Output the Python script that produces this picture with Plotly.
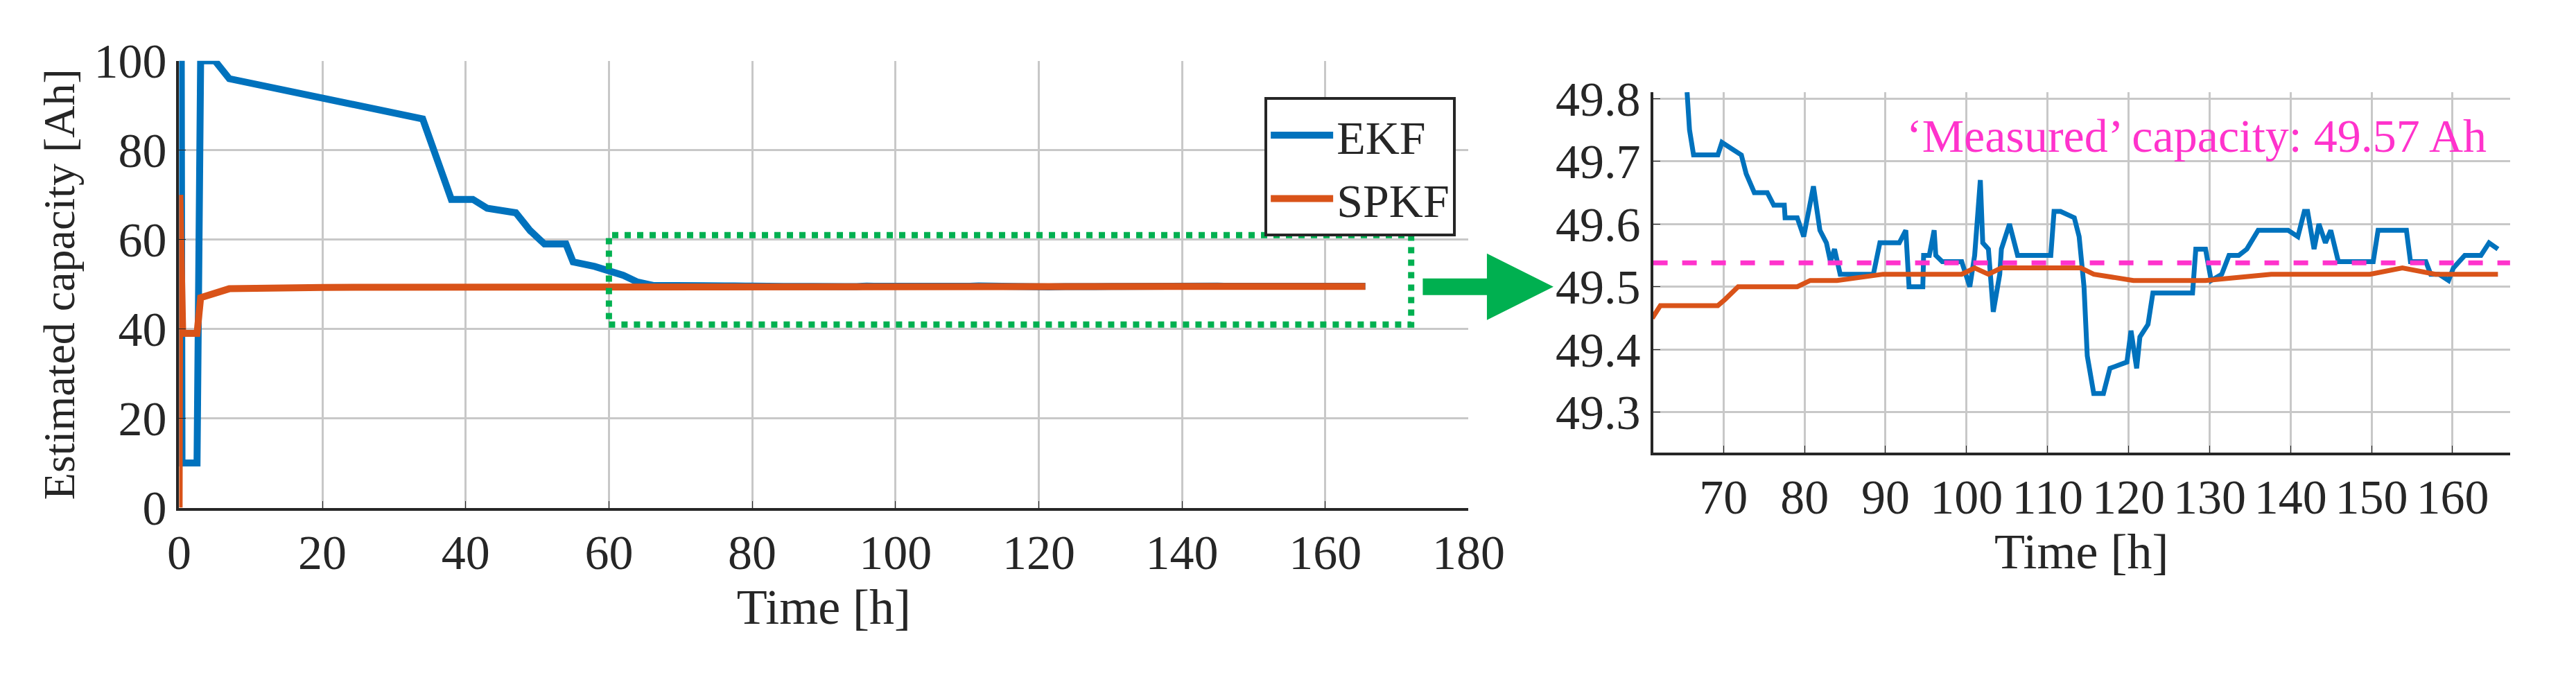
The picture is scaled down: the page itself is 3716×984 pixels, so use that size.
import plotly.graph_objects as go

# EKF early transient (left plot only) then detailed
ekf_t_early = [0, 0.3, 0.4, 2.5, 3.0, 5.0, 7.0, 34, 38, 41, 43, 47, 49, 51, 54, 55, 58, 60, 62, 64]
ekf_v_early = [100, 100, 10, 10, 100, 100, 96, 87, 69, 69, 67, 66, 62, 59, 59, 55, 54, 53, 52, 50.5]
ekf_t = [65.5, 65.8, 66.3, 69.3, 69.8, 71, 72.2, 72.8, 73.8, 75.4, 76.2, 77.5, 77.6, 79.1, 79.9, 81.1, 81.9, 82.7,
         83.2, 83.7, 84.4, 88.5, 89.3, 90.1, 91.7, 92.5, 92.9, 94.6, 94.7, 95.4, 96, 96.2, 97, 99.4, 100.4, 101, 101.7,
         102, 102.7, 103.3, 104.1, 104.3, 105.3, 106.3, 110.4, 110.8, 111.6, 113.3, 113.9, 114.5, 114.9, 115.7, 116.9,
         117.7, 119.8, 120.3, 121, 121.4, 122.4, 123, 123.7, 127.9, 128.3, 129.5, 130.2, 131.5, 132.4, 133.6, 134.6,
         136, 137.6, 139.7, 140.9, 141.7, 142.1, 142.9, 143.5, 144.3, 144.96, 145.9, 150.2, 150.8, 151.8, 154.3, 154.8,
         156.7, 157.3, 158.3, 159.5, 160.1, 161.5, 163.5, 164.5, 165.6]
ekf_v = [49.81, 49.75, 49.71, 49.71, 49.73, 49.72, 49.71, 49.68, 49.65, 49.65, 49.63, 49.63, 49.61, 49.61, 49.58, 49.66,
         49.59, 49.57, 49.54, 49.56, 49.52, 49.52, 49.57, 49.57, 49.57, 49.59, 49.50, 49.50, 49.55, 49.55, 49.59, 49.55,
         49.54, 49.54, 49.50, 49.55, 49.67, 49.57, 49.56, 49.46, 49.52, 49.56, 49.60, 49.55, 49.55, 49.62, 49.62, 49.61,
         49.58, 49.50, 49.39, 49.33, 49.33, 49.37, 49.38, 49.43, 49.37, 49.42, 49.44, 49.49, 49.49, 49.49, 49.56, 49.56,
         49.51, 49.52, 49.55, 49.55, 49.56, 49.59, 49.59, 49.59, 49.58, 49.62, 49.62, 49.56, 49.60, 49.57, 49.59, 49.54,
         49.54, 49.59, 49.59, 49.59, 49.54, 49.54, 49.52, 49.52, 49.51, 49.53, 49.55, 49.55, 49.57, 49.56]

spkf_t_early = [0, 0.1, 0.5, 2.5, 3.0, 5.0, 7.0, 20, 40]
spkf_v_early = [0, 70, 39, 39, 47, 48, 49, 49.3, 49.4]
spkf_t = [61.2, 62.2, 64.1, 65.7, 69.3, 70.2, 71.8, 73.4, 79.1, 80.7, 84, 89.7, 92.9, 99.4, 101, 102.7, 104.3, 112.4,
          114.1, 115.7, 120.6, 122.2, 129.5, 137.6, 145.7, 149.8, 153.8, 157.9, 165.6]
spkf_v = [49.45, 49.47, 49.47, 49.47, 49.47, 49.48, 49.50, 49.50, 49.50, 49.51, 49.51, 49.52, 49.52, 49.52, 49.53,
          49.52, 49.53, 49.53, 49.53, 49.52, 49.51, 49.51, 49.51, 49.52, 49.52, 49.52, 49.53, 49.52, 49.52]

measured = 49.538
measured_label = "‘Measured’ capacity: 49.57 Ah"
left_xticks = list(range(0, 181, 20))
left_yticks = list(range(0, 101, 20))
right_xticks = list(range(70, 161, 10))
right_yticks = [49.3, 49.4, 49.5, 49.6, 49.7, 49.8]

BLUE = "#0072BD"
ORANGE = "#D95319"
GREEN = "#00B050"
PINK = "#FF33CC"
FONT = "Liberation Serif"

fig = go.Figure()
fig.add_trace(go.Scatter(x=ekf_t_early + ekf_t, y=ekf_v_early + ekf_v, mode="lines", name="EKF",
                         line=dict(color=BLUE, width=10), xaxis="x", yaxis="y"))
fig.add_trace(go.Scatter(x=spkf_t_early + spkf_t, y=spkf_v_early + spkf_v, mode="lines", name="SPKF",
                         line=dict(color=ORANGE, width=10), xaxis="x", yaxis="y"))
fig.add_trace(go.Scatter(x=ekf_t, y=ekf_v, mode="lines", showlegend=False,
                         line=dict(color=BLUE, width=7), xaxis="x2", yaxis="y2"))
fig.add_trace(go.Scatter(x=spkf_t, y=spkf_v, mode="lines", showlegend=False,
                         line=dict(color=ORANGE, width=7), xaxis="x2", yaxis="y2"))
fig.add_trace(go.Scatter(x=[61.3, 167.1], y=[measured, measured], mode="lines", showlegend=False,
                         line=dict(color=PINK, width=7, dash="dash"), xaxis="x2", yaxis="y2"))

ax_common = dict(showgrid=True, gridcolor="#C8C8C8", gridwidth=3, showline=True, linecolor="#262626",
                 linewidth=4, zeroline=False, ticks="inside", ticklen=10, tickcolor="#262626",
                 tickfont=dict(family=FONT, size=70, color="#262626"))

fig.update_layout(
    width=3716, height=984, margin=dict(l=0, r=0, t=0, b=0),
    paper_bgcolor="white", plot_bgcolor="white",
    font=dict(family=FONT, color="#262626"),
    xaxis=dict(domain=[0.064, 0.574], range=[0, 180], tickvals=left_xticks, anchor="y",
               title=dict(text="Time [h]", font=dict(size=72)), **ax_common),
    yaxis=dict(domain=[0.243, 0.954], range=[0, 100], tickvals=left_yticks, anchor="x",
               title=dict(text="Estimated capacity [Ah]", font=dict(size=64), standoff=8), **ax_common),
    xaxis2=dict(domain=[0.647, 0.986], range=[61.3, 167.1], tickvals=right_xticks, anchor="y2",
                title=dict(text="Time [h]", font=dict(size=72)), **ax_common),
    yaxis2=dict(domain=[0.331, 0.904], range=[49.236, 49.81], tickvals=right_yticks, anchor="x2",
                tickformat=".1f", **ax_common),
    legend=dict(x=0.569, y=0.896, xanchor="right", yanchor="top", bgcolor="white",
                bordercolor="#262626", borderwidth=4, font=dict(family=FONT, size=68),
                itemwidth=90, tracegroupgap=0),
)

fig.add_shape(type="rect", xref="x", yref="y", x0=60, x1=172, y0=41, y1=61,
              line=dict(color=GREEN, width=9, dash="dot"))
fig.add_annotation(xref="paper", yref="paper", x=0.6076, y=0.5945, ax=-190, ay=0, text="",
                   showarrow=True, arrowhead=2, arrowsize=0.8, arrowwidth=24, arrowcolor=GREEN)
fig.add_annotation(xref="x2", yref="y2", x=128.4, y=49.74, text=measured_label, showarrow=False,
                   font=dict(family=FONT, size=68, color=PINK))

fig.write_html("out.html")
